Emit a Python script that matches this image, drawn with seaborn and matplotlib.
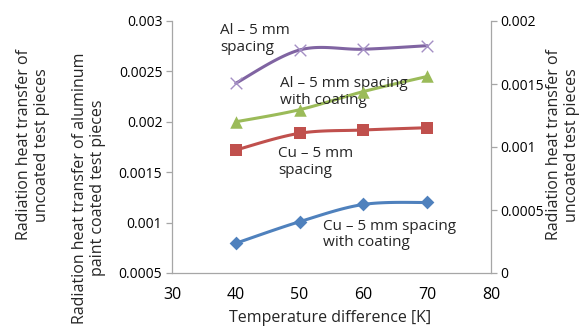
import numpy as np
import pandas as pd
import matplotlib
matplotlib.use("Agg")
import matplotlib.pyplot as plt
import seaborn as sns

# ---- data ----
temp_diff = [40, 50, 60, 70]
al_uncoated = [0.001506, 0.001770, 0.001776, 0.001804]    # right axis
cu_uncoated = [0.000976, 0.001109, 0.001135, 0.001153]    # right axis
al_coated = [0.00200, 0.00212, 0.00230, 0.00245]          # left axis
cu_coated = [0.000795, 0.001009, 0.00118, 0.00120]        # left axis

x_ticks = [30, 40, 50, 60, 70, 80]
left_ticks = [0.0005, 0.001, 0.0015, 0.002, 0.0025, 0.003]
left_tick_labels = ["0.0005", "0.001", "0.0015", "0.002", "0.0025", "0.003"]
right_ticks = [0, 0.0005, 0.001, 0.0015, 0.002]
right_tick_labels = ["0", "0.0005", "0.001", "0.0015", "0.002"]

sns.set_style("white")
plt.rcParams["font.family"] = ["Open Sans", "DejaVu Sans"]

W, H = 584, 331
fig = plt.figure(figsize=(W / 100, H / 100), dpi=100)
ax = fig.add_axes([172 / W, 1 - 273 / H, (491 - 172) / W, (273 - 21) / H])
ax2 = ax.twinx()

def smooth(xs, ys, n=30):
    # Bezier-style smoothing (like spreadsheet "smoothed line") for rendering only
    xs = np.asarray(xs, float); ys = np.asarray(ys, float)
    xr = xs.max() - xs.min(); yr = 1.0
    px = np.concatenate([[xs[0]], xs, [xs[-1]]])
    py = np.concatenate([[ys[0]], ys, [ys[-1]]])
    ox, oy = [], []
    for i in range(1, len(px) - 2):
        p0 = np.array([px[i - 1], py[i - 1]]); p1 = np.array([px[i], py[i]])
        p2 = np.array([px[i + 1], py[i + 1]]); p3 = np.array([px[i + 2], py[i + 2]])
        c1 = p1 + (p2 - p0) / 6.0
        c2 = p2 - (p3 - p1) / 6.0
        t = np.linspace(0, 1, n)[:, None]
        b = (1 - t) ** 3 * p1 + 3 * (1 - t) ** 2 * t * c1 + 3 * (1 - t) * t ** 2 * c2 + t ** 3 * p2
        ox.extend(b[:, 0]); oy.extend(b[:, 1])
    return pd.DataFrame({"x": ox, "y": oy})

series = [
    (ax2, al_uncoated, "#8064A2", "x", 9, 0.8, "#A48FC4"),
    (ax, al_coated, "#9BBB59", "^", 9, 0, "#9BBB59"),
    (ax2, cu_uncoated, "#C0504D", "s", 8, 0, "#C0504D"),
    (ax, cu_coated, "#4F81BD", "D", 7, 0, "#4F81BD"),
]
for a, vals, col, mk, ms, mew, mcol in series:
    d = smooth(temp_diff, vals)
    sns.lineplot(data=d, x="x", y="y", ax=a, color=col, lw=2.2, sort=False, estimator=None)
    pts = pd.DataFrame({"x": temp_diff, "y": vals})
    if mk == "x":
        sns.scatterplot(data=pts, x="x", y="y", ax=a, marker="x", s=70, color=mcol, linewidth=1.0, zorder=5)
    else:
        sns.scatterplot(data=pts, x="x", y="y", ax=a, marker=mk, s=ms ** 2, color=mcol, edgecolor=mcol, linewidth=0, zorder=5)

gray = "#A6A6A6"
ax.set_xlim(30, 80)
ax.set_ylim(0.0005, 0.003)
ax2.set_ylim(0, 0.002)
ax.set_xticks(x_ticks)
ax.set_xticklabels([str(v) for v in x_ticks], fontsize=11.5)
ax.set_yticks(left_ticks)
ax.set_yticklabels(left_tick_labels, fontsize=10)
ax2.set_yticks(right_ticks)
ax2.set_yticklabels(right_tick_labels, fontsize=10)
for a in (ax, ax2):
    a.set_xlabel(""); a.set_ylabel("")
    a.spines["top"].set_visible(False)
    for s in ("left", "bottom", "right"):
        a.spines[s].set_color(gray)
        a.spines[s].set_linewidth(0.9)
    a.tick_params(axis="both", direction="out", length=4, width=0.9, color=gray, labelcolor="#000000", pad=3)
ax.spines["right"].set_visible(False)
ax2.spines["left"].set_visible(False)
ax2.spines["bottom"].set_visible(False)
ax.tick_params(axis="x", pad=6)

# annotations
afs = 11
ax.text(37.6, 0.00298, "Al – 5 mm\nspacing", fontsize=afs, va="top", ha="left", linespacing=1.15)
ax.text(47.0, 0.00245, "Al – 5 mm spacing\nwith coating", fontsize=afs, va="top", ha="left", linespacing=1.15)
ax.text(46.6, 0.00176, "Cu – 5 mm\nspacing", fontsize=afs, va="top", ha="left", linespacing=1.15)
ax.text(53.7, 0.00104, "Cu – 5 mm spacing\nwith coating", fontsize=afs, va="top", ha="left", linespacing=1.15)

# axis titles
fig.text(330 / W, 1 - 318 / H, "Temperature difference [K]", fontsize=11.5, ha="center", va="center")
lfs = 11.5
fig.text(33 / W, 1 - 145 / H, "Radiation heat transfer of\nuncoated test pieces", rotation=90,
         fontsize=lfs, ha="center", va="center", multialignment="center", linespacing=1.2)
fig.text(89 / W, 1 - 188 / H, "Radiation heat transfer of aluminum\npaint coated test pieces", rotation=90,
         fontsize=lfs, ha="center", va="center", multialignment="center", linespacing=1.2)
fig.text(563 / W, 1 - 145 / H, "Radiation heat transfer of\nuncoated test pieces", rotation=90,
         fontsize=lfs, ha="center", va="center", multialignment="center", linespacing=1.2)

fig.savefig("out.png", dpi=100)
